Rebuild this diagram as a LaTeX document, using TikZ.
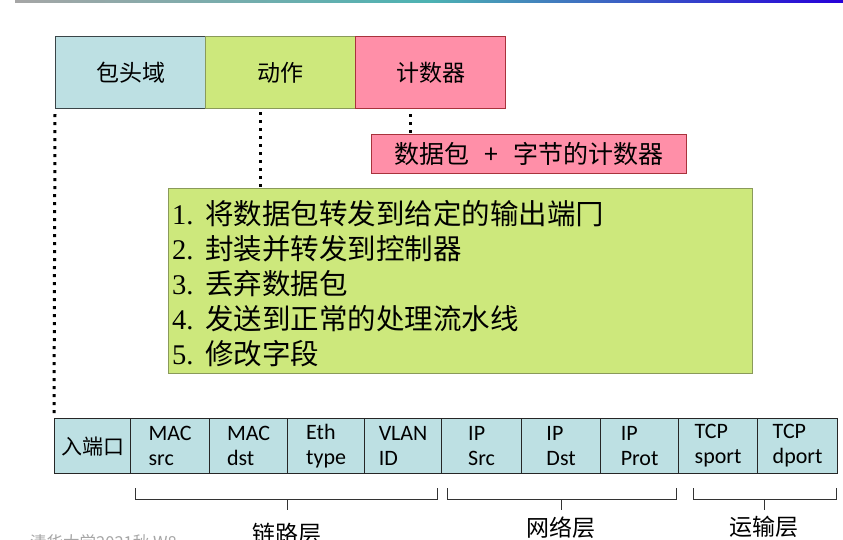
\documentclass[tikz,border=0pt]{standalone}
\usepackage{fontspec}
\setmainfont{Carlito}
\newfontfamily\cjk{Noto Sans CJK SC}
\newfontfamily\numf{Liberation Serif}
\usetikzlibrary{positioning}
\definecolor{hdrcyan}{HTML}{BDE0E3}
\definecolor{actgreen}{HTML}{CDE87C}
\definecolor{cntpink}{HTML}{FF8FA8}
\definecolor{cntborder}{HTML}{A8323C}
\definecolor{actborder}{HTML}{8A9A5A}
\definecolor{hdrborder}{HTML}{3A4548}
\tikzset{
  topbox/.style={draw, line width=1.2pt, minimum width=150pt, minimum height=72pt, inner sep=0pt, anchor=north west, font=\cjk\fontsize{23}{26}\selectfont},
  cell/.style={draw=black!85, line width=1.2pt, fill=hdrcyan, minimum height=55pt, inner sep=0pt, anchor=north west, align=left, font=\fontsize{22}{25}\selectfont},
  dotline/.style={line width=3pt, dash pattern=on 3pt off 5pt},
  brk/.style={line width=0.8pt, black!80},
  layer/.style={font=\cjk\fontsize{23}{26}\selectfont, anchor=north}
}
\begin{document}
\begin{tikzpicture}[x=1pt,y=-1pt]
\useasboundingbox (0,0) rectangle (843,540);
% top header gradient line
\shade[left color=black!35, right color=blue!70!violet, middle color=cyan!40!gray] (15,0) rectangle (843,3);
% top boxes
\node[topbox, fill=hdrcyan, draw=hdrborder] (hdr) at (55,36) {包头域};
\node[topbox, fill=actgreen, draw=actborder] (act) at (205,36) {动作};
\node[topbox, fill=cntpink, draw=cntborder] (cnt) at (355,36) {计数器};
% counter box
\node[draw=cntborder, line width=1.2pt, fill=cntpink, minimum width=315pt, minimum height=39pt, anchor=north west, inner sep=0pt, font=\cjk\fontsize{25}{27}\selectfont] (cntbox) at (371,134) {数据包\hspace{15pt}+\hspace{15pt}字节的计数器};
% action box
\node[draw=actborder, line width=1.2pt, fill=actgreen, minimum width=584pt, minimum height=185pt, anchor=north west, inner sep=0pt] (actbox) at (168,188) {};
\foreach \i/\t [count=\k] in {1/将数据包转发到给定的输出端冂, 2/封装并转发到控制器, 3/丢弃数据包, 4/发送到正常的处理流水线, 5/修改字段}{
  \node[anchor=west, inner sep=0pt, font=\cjk\fontsize{28.5}{30}\selectfont] (a\k) at (172, 214+35*\k-35) {\makebox[33pt][l]{\numf\i.}\t};
}
% bottom cells
\node[cell, minimum width=76pt, font=\cjk\fontsize{21}{24}\selectfont, align=center] (inport) at (54,418) {入端口};
\node[cell, minimum width=79pt] (macsrc) at (130,418) {MAC\\src};
\node[cell, minimum width=78pt] (macdst) at (209,418) {MAC\\dst};
\node[cell, minimum width=77pt] (eth) at (287,418) {Eth\\type};
\node[cell, minimum width=77pt] (vlan) at (364,418) {VLAN\\ID};
\node[cell, minimum width=80pt] (ipsrc) at (441,418) {IP\\Src};
\node[cell, minimum width=79pt] (ipdst) at (521,418) {IP\\Dst};
\node[cell, minimum width=78pt] (ipprot) at (600,418) {IP\\Prot};
\node[cell, minimum width=79pt] (tcps) at (678,418) {TCP\\sport};
\node[cell, minimum width=80pt] (tcpd) at (757,418) {TCP\\dport};
% dotted connectors
\draw[dotline] ([yshift=-5pt]hdr.south west) -- (inport.north west);
\draw[dotline] ([xshift=55pt,yshift=-3pt]act.south west) -- ([xshift=92pt]actbox.north west);
\draw[dotline] ([xshift=55pt,yshift=-5pt]cnt.south west) -- ([xshift=39pt]cntbox.north west);
% brackets
\draw[brk] (135,488) -- (135,499) -- (437,499) -- (437,488);
\draw[brk] (287,499) -- (287,510);
\draw[brk] (447,488) -- (447,499) -- (676,499) -- (676,488);
\draw[brk] (561,499) -- (561,510);
\draw[brk] (693,488) -- (693,499) -- (836,499) -- (836,488);
\draw[brk] (764,499) -- (764,510);
\node[layer] (l1) at (287,520) {链路层};
\node[layer] (l2) at (561,513) {网络层};
\node[layer] (l3) at (764,513) {运输层};
% watermark
\node[anchor=west, inner sep=0pt, text=black!35, font=\cjk\fontsize{16.5}{17}\selectfont] (wm) at (30,542) {清华大学2021秋 W8};
\end{tikzpicture}
\end{document}
